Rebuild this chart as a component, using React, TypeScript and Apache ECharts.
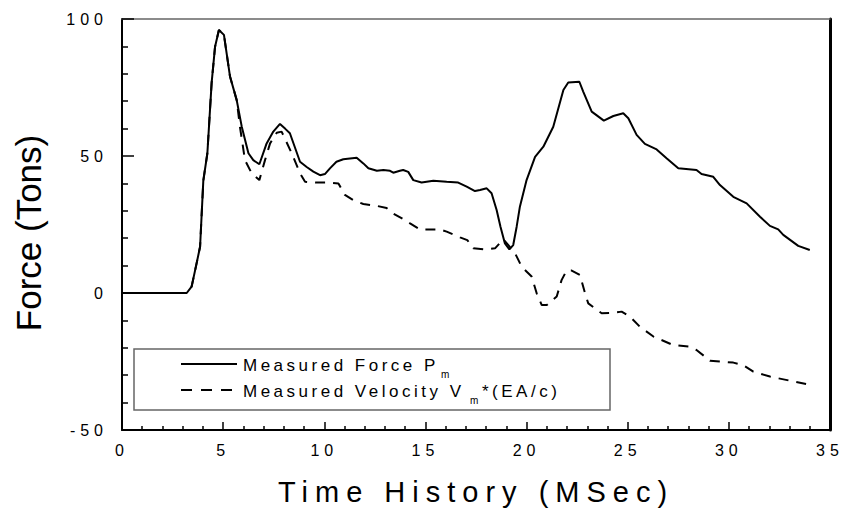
import React, { useEffect, useRef } from "react";
import * as echarts from "echarts";

// ---- data ----
const forceT = [0, 3.2, 3.44, 3.69, 3.86, 4.02, 4.22, 4.43, 4.6, 4.79, 5.04, 5.34, 5.67, 5.92, 6.25, 6.49, 6.79, 7.15, 7.48, 7.81, 8.06, 8.3, 8.8, 9.13, 9.46, 9.79, 10.03, 10.28, 10.6, 10.94, 11.6, 11.93, 12.18, 12.6, 12.92, 13.25, 13.41, 13.74, 13.9, 14.15, 14.4, 14.81, 15.39, 16.05, 16.62, 17.04, 17.45, 17.7, 18.03, 18.27, 18.52, 18.71, 18.93, 19.15, 19.34, 19.51, 19.67, 20.0, 20.42, 20.83, 21.32, 21.82, 22.06, 22.61, 22.8, 23.22, 23.82, 24.29, 24.78, 25.03, 25.44, 25.85, 26.43, 26.92, 27.5, 28.4, 28.65, 29.23, 29.56, 30.22, 30.88, 31.54, 32.03, 32.44, 32.69, 33.43, 34.0];
const forceV = [0, 0, 2.3, 10.9, 16.9, 41, 51, 76.6, 89.9, 96, 94.2, 79, 70.4, 60.7, 51, 48.5, 47, 54.6, 58.9, 61.7, 60, 58.3, 47.9, 46, 44.3, 43, 43.4, 45.5, 47.9, 48.8, 49.4, 47.3, 45.5, 44.6, 44.9, 44.6, 43.9, 44.6, 44.9, 44.2, 41.2, 40.3, 41, 40.6, 40.3, 38.8, 37.2, 37.6, 38.2, 36.4, 30.3, 24.2, 18.1, 15.9, 17.5, 24.2, 31.5, 41.2, 49.7, 53.4, 60.7, 74.1, 76.8, 77.1, 73.5, 66.2, 62.9, 64.6, 65.6, 63.8, 57.7, 54.4, 52.4, 49.2, 45.5, 44.9, 43.4, 42.4, 39.4, 35.1, 32.7, 27.8, 24.5, 23.2, 21.2, 17.2, 15.7];

const velT = [0, 3.2, 3.44, 3.69, 3.86, 4.02, 4.22, 4.43, 4.6, 4.79, 5.04, 5.34, 5.67, 5.83, 6.08, 6.41, 6.79, 7.07, 7.32, 7.65, 7.89, 8.39, 8.8, 9.05, 9.62, 10.28, 10.7, 11.02, 11.43, 11.93, 12.6, 13.08, 13.41, 13.99, 14.24, 14.73, 15.72, 16.05, 16.71, 17.07, 17.37, 18.03, 18.44, 18.85, 19.1, 19.43, 19.76, 20.25, 20.5, 20.75, 21.0, 21.49, 21.73, 21.98, 22.23, 22.64, 22.89, 23.05, 23.71, 24.29, 24.7, 25.11, 25.6, 26.27, 27.25, 28.08, 28.4, 29.07, 30.22, 30.71, 31.21, 32.03, 33.02, 34.0];
const velV = [0, 0, 2.3, 10.9, 16.9, 41, 51, 76.6, 89.9, 96, 94.2, 79, 70.4, 60.7, 48.5, 43.7, 41.2, 48.5, 54.6, 58.5, 58.9, 51, 43.7, 40.6, 40.3, 40.3, 40, 35.8, 33.9, 32.5, 31.8, 31, 29, 26.6, 25.4, 23.2, 23.2, 22.4, 20.3, 19.3, 16.3, 15.9, 16.3, 19.6, 17.5, 14.5, 9.6, 6, -0.1, -4.4, -4.4, -1.3, 4.7, 8.2, 8.2, 6.6, -0.1, -3.8, -7.4, -7.2, -6.8, -8.6, -12.3, -15.9, -19, -19.6, -20.8, -24.7, -25.4, -26.3, -28.7, -30.5, -32, -33.5];

const xName = "Time History (MSec)";
const yName = "Force (Tons)";
const legendForce = "Measured Force P";
const legendVel = "Measured Velocity V";
const legendSub = "m";
const legendVelTail = "*(EA/c)";

const FONT = "'Liberation Sans', Arial, Helvetica, sans-serif";

const css = `
#chartbox text[style*="16px"] { letter-spacing: 5px; }
#chartbox text[style*="17px"] { letter-spacing: 3.5px; }
#chartbox text[style*="29px"] { letter-spacing: 7px; }
`;

export default function App() {
  const ref = useRef<HTMLDivElement>(null);
  useEffect(() => {
    if (!ref.current) return;
    const chart = echarts.init(ref.current, null, { renderer: "svg" });
    const forceData = forceT.map((t, i) => [t, forceV[i]]);
    const velData = velT.map((t, i) => [t, velV[i]]);
    const black = "#000";
    chart.setOption({
      animation: false,
      backgroundColor: "#fff",
      grid: { left: 122, top: 19, right: 13, bottom: 89, containLabel: false },
      xAxis: [
        {
          type: "value",
          min: 0,
          max: 35,
          interval: 5,
          position: "bottom",
          axisLine: { show: true, onZero: false, lineStyle: { color: black, width: 2 } },
          axisTick: { show: true, inside: true, length: 8, lineStyle: { color: black, width: 1.5 } },
          minorTick: { show: true, splitNumber: 5, length: 4, lineStyle: { color: black, width: 1.5 } },
          axisLabel: { color: black, fontSize: 16, fontFamily: FONT, margin: 12 },
          splitLine: { show: false },
          name: xName,
          nameLocation: "middle",
          nameGap: 47,
          nameTextStyle: { color: black, fontSize: 29, fontFamily: FONT },
        },
        {
          type: "value",
          min: 0,
          max: 35,
          position: "top",
          axisLine: { show: true, onZero: false, lineStyle: { color: "#666", width: 1.5 } },
          axisTick: { show: false },
          axisLabel: { show: false },
          splitLine: { show: false },
        },
      ],
      yAxis: [
        {
          type: "value",
          min: -50,
          max: 100,
          interval: 50,
          position: "left",
          axisLine: { show: true, onZero: false, lineStyle: { color: black, width: 2 } },
          axisTick: { show: true, inside: true, length: 12, lineStyle: { color: black, width: 1.5 } },
          minorTick: { show: true, splitNumber: 5, length: 6, lineStyle: { color: black, width: 1.5 } },
          axisLabel: { color: black, fontSize: 16, fontFamily: FONT, margin: 14 },
          splitLine: { show: false },
        },
        {
          type: "value",
          min: -50,
          max: 100,
          position: "right",
          axisLine: { show: true, onZero: false, lineStyle: { color: black, width: 3 } },
          axisTick: { show: false },
          axisLabel: { show: false },
          splitLine: { show: false },
        },
      ],
      series: [
        {
          name: "Measured Velocity",
          type: "line",
          data: velData,
          showSymbol: false,
          symbol: "none",
          lineStyle: { color: black, width: 2, type: [10, 8] },
          z: 2,
        },
        {
          name: "Measured Force",
          type: "line",
          data: forceData,
          showSymbol: false,
          symbol: "none",
          lineStyle: { color: black, width: 2, type: "solid" },
          z: 3,
        },
      ],
      graphic: [
        {
          type: "text",
          x: 28,
          y: 233,
          rotation: Math.PI / 2,
          style: { text: yName, fill: black, font: `35px ${FONT}`, textAlign: "center", textVerticalAlign: "middle" },
        },
        {
          type: "group",
          z: 100,
          children: [
            {
              type: "rect",
              shape: { x: 134, y: 349, width: 476, height: 61 },
              style: { fill: "#fff", stroke: "#666", lineWidth: 1.5 },
            },
            {
              type: "line",
              shape: { x1: 181, y1: 364, x2: 237, y2: 364 },
              style: { stroke: black, lineWidth: 2 },
            },
            {
              type: "line",
              shape: { x1: 181, y1: 390, x2: 237, y2: 390 },
              style: { stroke: black, lineWidth: 2, lineDash: [11, 9] },
            },
            {
              type: "text",
              x: 243,
              y: 365,
              style: { text: legendForce, fill: black, font: `17px ${FONT}`, textVerticalAlign: "middle", textAlign: "left" },
            },
            {
              type: "text",
              x: 441,
              y: 374,
              style: { text: legendSub, fill: black, font: `10px ${FONT}`, textVerticalAlign: "middle", textAlign: "left" },
            },
            {
              type: "text",
              x: 243,
              y: 391,
              style: { text: legendVel, fill: black, font: `17px ${FONT}`, textVerticalAlign: "middle", textAlign: "left" },
            },
            {
              type: "text",
              x: 470,
              y: 400,
              style: { text: legendSub, fill: black, font: `10px ${FONT}`, textVerticalAlign: "middle", textAlign: "left" },
            },
            {
              type: "text",
              x: 482,
              y: 391,
              style: { text: legendVelTail, fill: black, font: `17px ${FONT}`, textVerticalAlign: "middle", textAlign: "left" },
            },
          ],
        },
      ],
    });
    return () => chart.dispose();
  }, []);
  return (
    <>
      <style>{css}</style>
      <div
        id="chartbox"
        ref={ref}
        style={{ position: "absolute", left: 0, top: 0, width: 843, height: 519, background: "#fff" }}
      />
    </>
  );
}
